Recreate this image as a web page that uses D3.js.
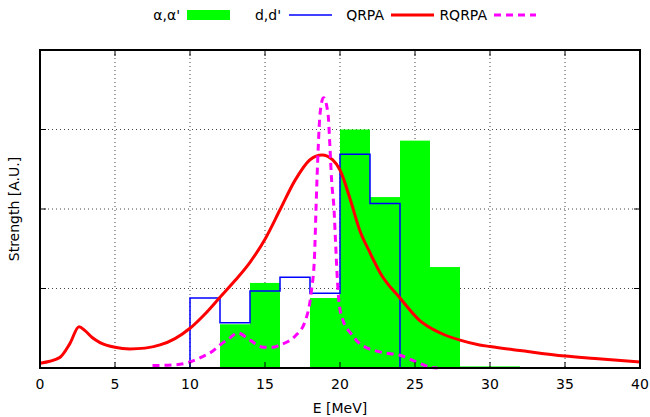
<!DOCTYPE html>
<html>
<head>
<meta charset="utf-8">
<script src="https://cdn.jsdelivr.net/npm/d3@7"></script>
<style>
	body { margin: 0; background: #fff; }
	text { font-family: "DejaVu Sans", sans-serif; font-size: 14px; }
</style>
</head>
<body>
<svg width="650" height="417"></svg>
<script>
// alpha,alpha' histogram: [bin start, bin end, strength]
var alphaBins = [[12, 14, 0.55], [14, 16, 1.07], [18, 20, 0.88], [20, 22, 3.0],
	[22, 24, 2.15], [24, 26, 2.86], [26, 28, 1.27], [28, 32, 0.02]];

// d,d' step line: [bin start, bin end, strength]
var dBins = [[10, 12, 0.88], [12, 14, 0.57], [14, 16, 0.97], [16, 18, 1.14],
	[18, 20, 0.94], [20, 22, 2.69], [22, 24, 2.07]];

// QRPA curve
var qrpaE = [0, 1.3, 2, 2.6, 3, 3.5, 4, 5, 6, 7, 8, 9, 10, 11, 12, 13, 14, 15, 16, 17, 18, 18.8, 19.5, 20, 20.7, 21.3, 22, 22.7, 24, 25.3, 26.7, 28, 29.3, 30, 32, 35, 37, 40];
var qrpaS = [0.06, 0.13, 0.31, 0.52, 0.47, 0.38, 0.32, 0.26, 0.24, 0.25, 0.29, 0.37, 0.5, 0.68, 0.89, 1.1, 1.33, 1.62, 1.99, 2.36, 2.62, 2.68, 2.62, 2.49, 2.11, 1.74, 1.45, 1.19, 0.88, 0.6, 0.44, 0.35, 0.29, 0.27, 0.22, 0.15, 0.12, 0.075];

// RQRPA curve
var rqrpaE = [7.5, 9, 10, 10.7, 11.5, 12, 12.6, 13.2, 14, 14.9, 15.5, 16, 16.5, 17, 17.7, 18.1, 18.3, 18.4, 18.55, 18.67, 18.9, 19.2, 19.33, 19.44, 19.6, 19.7, 19.8, 19.95, 20.2, 20.7, 21.3, 22.7, 24, 25.3, 26, 26.5];
var rqrpaS = [0.03, 0.04, 0.075, 0.13, 0.21, 0.29, 0.37, 0.44, 0.35, 0.26, 0.26, 0.29, 0.33, 0.4, 0.6, 0.98, 1.4, 2.0, 2.78, 3.2, 3.4, 3.2, 2.78, 2.36, 2.0, 1.6, 1.2, 0.8, 0.6, 0.44, 0.31, 0.2, 0.16, 0.06, 0.01, 0.0];

var xTicks = [0, 5, 10, 15, 20, 25, 30, 35, 40];
var yGrid = [1, 2, 3];

var svg = d3.select("svg");
var pLeft = 40, pRight = 640, pTop = 50, pBottom = 368;

var x = d3.scaleLinear().domain([0, 40]).range([pLeft, pRight]);
var y = d3.scaleLinear().domain([0, 4]).range([pBottom, pTop]);

// grid
var grid = svg.append("g").attr("stroke", "#444").attr("stroke-width", 1).attr("stroke-dasharray", "1,3");
grid.selectAll("line.v").data(xTicks.slice(1, -1)).enter().append("line")
	.attr("x1", function(d) { return x(d); }).attr("x2", function(d) { return x(d); })
	.attr("y1", pTop).attr("y2", pBottom);
grid.selectAll("line.h").data(yGrid).enter().append("line")
	.attr("x1", pLeft).attr("x2", pRight)
	.attr("y1", function(d) { return y(d); }).attr("y2", function(d) { return y(d); });

// green bars
svg.append("g").selectAll("rect").data(alphaBins).enter().append("rect")
	.attr("x", function(d) { return x(d[0]); })
	.attr("width", function(d) { return x(d[1]) - x(d[0]); })
	.attr("y", function(d) { return y(d[2]); })
	.attr("height", function(d) { return y(0) - y(d[2]); })
	.attr("fill", "#00ff00");

// blue steps
var steps = [[dBins[0][0], 0]];
dBins.forEach(function(b) { steps.push([b[0], b[2]]); steps.push([b[1], b[2]]); });
steps.push([dBins[dBins.length - 1][1], 0]);
svg.append("path")
	.attr("d", d3.line().x(function(d) { return x(d[0]); }).y(function(d) { return y(d[1]); })(steps))
	.attr("fill", "none").attr("stroke", "#0000ff").attr("stroke-width", 1.5);

var curve = d3.line().curve(d3.curveMonotoneX)
	.x(function(d) { return x(d[0]); }).y(function(d) { return y(d[1]); });

svg.append("path")
	.attr("d", curve(qrpaE.map(function(e, i) { return [e, qrpaS[i]]; })))
	.attr("fill", "none").attr("stroke", "#ff0000").attr("stroke-width", 3);

svg.append("path")
	.attr("d", curve(rqrpaE.map(function(e, i) { return [e, rqrpaS[i]]; })))
	.attr("fill", "none").attr("stroke", "#ff00ff").attr("stroke-width", 3)
	.attr("stroke-dasharray", "7,5");

// ticks (inside)
var ticks = svg.append("g").attr("stroke", "#000").attr("stroke-width", 1);
ticks.selectAll("line.b").data(xTicks).enter().append("line")
	.attr("x1", function(d) { return x(d); }).attr("x2", function(d) { return x(d); })
	.attr("y1", pBottom).attr("y2", pBottom - 6);
ticks.selectAll("line.t").data(xTicks).enter().append("line")
	.attr("x1", function(d) { return x(d); }).attr("x2", function(d) { return x(d); })
	.attr("y1", pTop).attr("y2", pTop + 6);
ticks.selectAll("line.l").data(yGrid).enter().append("line")
	.attr("x1", pLeft).attr("x2", pLeft + 6)
	.attr("y1", function(d) { return y(d); }).attr("y2", function(d) { return y(d); });
ticks.selectAll("line.r").data(yGrid).enter().append("line")
	.attr("x1", pRight).attr("x2", pRight - 6)
	.attr("y1", function(d) { return y(d); }).attr("y2", function(d) { return y(d); });

// frame
svg.append("rect").attr("x", pLeft).attr("y", pTop).attr("width", pRight - pLeft).attr("height", pBottom - pTop)
	.attr("fill", "none").attr("stroke", "#000").attr("stroke-width", 2);

// tick labels
svg.append("g").selectAll("text").data(xTicks).enter().append("text")
	.attr("x", function(d) { return x(d); }).attr("y", 389)
	.attr("text-anchor", "middle").text(function(d) { return d; });

svg.append("text").attr("x", 340).attr("y", 413).attr("text-anchor", "middle").text("E [MeV]");
svg.append("text").attr("transform", "translate(19,209) rotate(-90)")
	.attr("text-anchor", "middle").text("Strength [A.U.]");

// legend
var lg = svg.append("g");
lg.append("text").attr("x", 180).attr("y", 20).attr("text-anchor", "end").text("α,α'");
lg.append("rect").attr("x", 187).attr("y", 10).attr("width", 43).attr("height", 10).attr("fill", "#00ff00");
lg.append("text").attr("x", 281).attr("y", 20).attr("text-anchor", "end").text("d,d'");
lg.append("line").attr("x1", 289).attr("x2", 332).attr("y1", 15).attr("y2", 15).attr("stroke", "#0000ff").attr("stroke-width", 1.5);
lg.append("text").attr("x", 384).attr("y", 20).attr("text-anchor", "end").text("QRPA");
lg.append("line").attr("x1", 391).attr("x2", 434).attr("y1", 15).attr("y2", 15).attr("stroke", "#ff0000").attr("stroke-width", 3);
lg.append("text").attr("x", 487).attr("y", 20).attr("text-anchor", "end").text("RQRPA");
lg.append("line").attr("x1", 494).attr("x2", 536).attr("y1", 15).attr("y2", 15).attr("stroke", "#ff00ff").attr("stroke-width", 3).attr("stroke-dasharray", "7,5");
</script>
</body>
</html>
